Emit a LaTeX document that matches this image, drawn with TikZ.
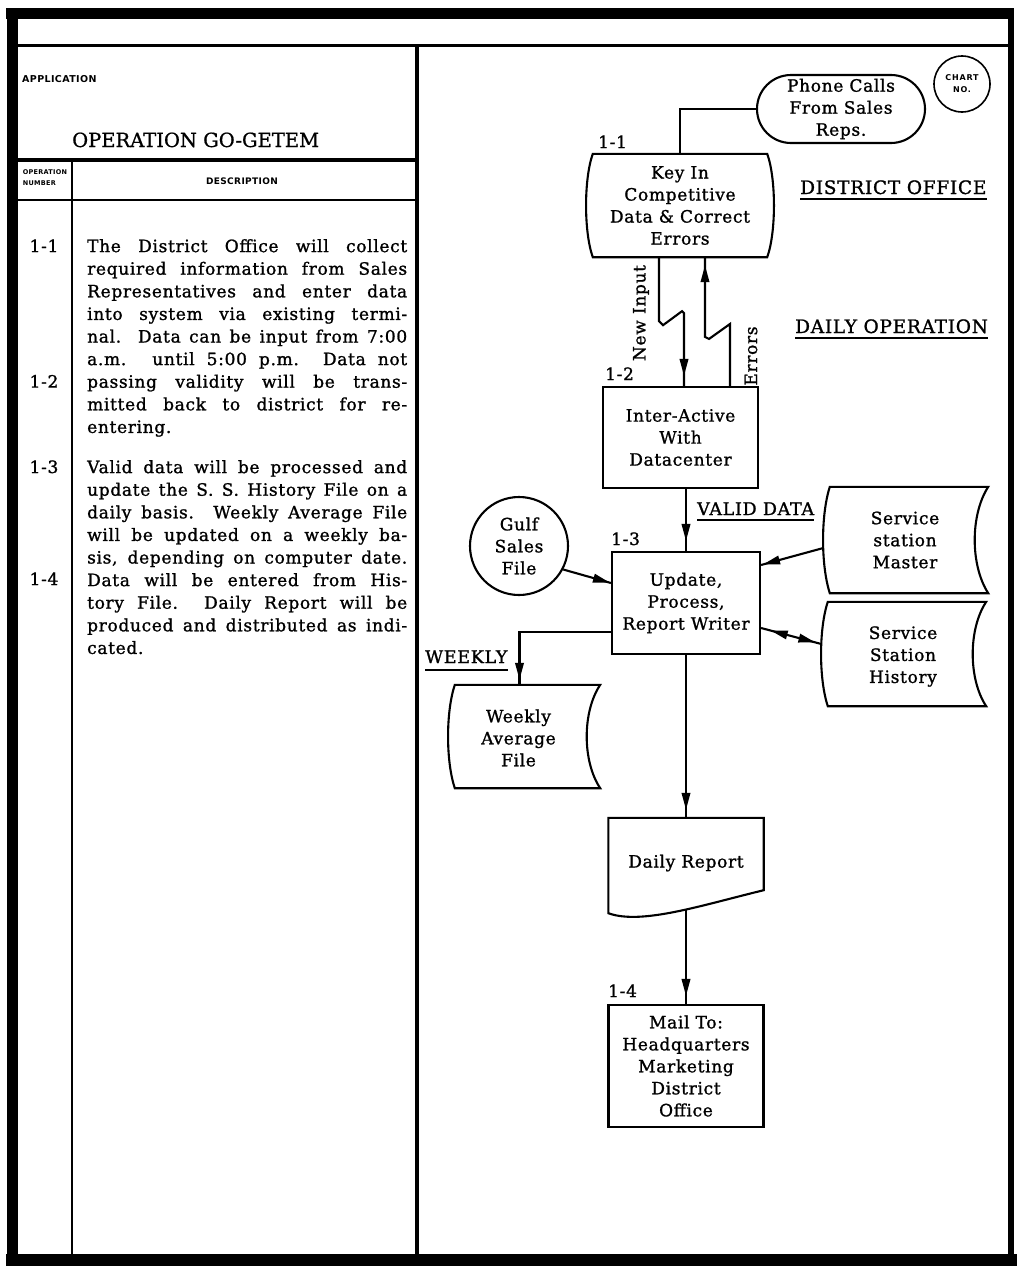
\documentclass[tikz,border=0pt]{standalone}
\usepackage{fontspec}
\setmainfont{DejaVu Serif}[LetterSpace=4,FakeBold=1.2]
\newfontfamily\titlefont{DejaVu Serif}[FakeBold=0.8]
\newfontfamily\hdrfont{DejaVu Sans}[LetterSpace=4]
\newfontfamily\chartfont{DejaVu Sans}[LetterSpace=10]
\usetikzlibrary{arrows.meta,decorations.markings,calc}
\tolerance=10000
\hyphenpenalty=10000
\emergencystretch=20pt
\tikzset{
  lnk/.style={line width=2.1pt},
  txt/.style={font=\fontsize{17}{22}\selectfont, align=center, inner sep=0pt},
  boxnode/.style={txt, draw, line width=2.1pt},
  lbl/.style={font=\fontsize{18.5}{22}\selectfont, inner sep=0pt},
  arr/.style={lnk, postaction={decorate}, decoration={markings,
     mark=at position #1 with {\arrow{Triangle[length=17pt,width=8.5pt]}}}},
  arr/.default=-8pt,
  arrboth/.style={lnk, postaction={decorate}, decoration={markings,
     mark=at position 10pt with {\arrowreversed{Triangle[length=17pt,width=8.5pt]}},
     mark=at position -6pt with {\arrow{Triangle[length=17pt,width=8.5pt]}}}},
  desc/.style={anchor=north west, text width=320pt, align=justify, inner sep=0pt,
     font=\fontsize{17}{22.6}\selectfont},
  opn/.style={font=\fontsize{17}{22}\selectfont, inner sep=0pt, anchor=base},
  ulin/.style={line width=1.5pt},
}
\begin{document}
\begin{tikzpicture}[x=1pt,y=-1pt]
\useasboundingbox (0,0) rectangle (1017,1266);
\fill[white] (0,0) rectangle (1017,1266);

% ---------- frame ----------
\draw[line width=11pt] (6,13) -- (1014,13);
\draw[line width=11pt] (12,8) -- (12,1266);
\draw[line width=12pt] (6,1260) -- (1017,1260);
\draw[line width=6pt] (1011,8) -- (1011,1266);
\draw[line width=3pt] (12,45) -- (1011,45);
\draw[line width=4pt] (417,45) -- (417,1260);
\draw[line width=3.5pt] (12,160) -- (417,160);
\draw[line width=2pt] (12,200) -- (417,200);
\draw[line width=1.6pt] (72,160) -- (72,1260);

% ---------- left panel headers ----------
\node[anchor=base west, inner sep=0pt, font=\hdrfont\bfseries\fontsize{9.5}{10}\selectfont] (app) at (22,82) {APPLICATION};
\node[anchor=base west, inner sep=0pt, font=\titlefont\fontsize{19.5}{22}\selectfont] (title) at (72,147) {OPERATION GO-GETEM};
\node[inner sep=0pt, align=left, font=\hdrfont\bfseries\fontsize{6.5}{11}\selectfont] (opnum) at (45,178) {OPERATION\\NUMBER};
\node[inner sep=0pt, font=\hdrfont\bfseries\fontsize{9}{9}\selectfont] (deschd) at (242,181) {DESCRIPTION};

% ---------- description text ----------
\node[opn] (o11) at (44,252) {1-1};
\node[opn] (o12) at (44,387.6) {1-2};
\node[opn] (o13) at (44,473) {1-3};
\node[opn] (o14) at (44,585) {1-4};
\node[desc] (desc1) at (87,239) {The District Office will collect\linebreak
required information from Sales\linebreak
Representatives and enter data\linebreak
into system via existing termi-\linebreak
nal.\ \ Data can be input from 7:00\linebreak
a.m. until 5:00 p.m.\ \ Data not\linebreak
passing validity will be trans-\linebreak
mitted back to district for re-\linebreak
entering.};
\node[desc] (desc2) at (87,460) {Valid data will be processed and\linebreak
update the S. S. History File on a\linebreak
daily basis.\ \ Weekly Average File\linebreak
will be updated on a weekly ba-\linebreak
sis, depending on computer date.\linebreak
Data will be entered from His-\linebreak
tory File.\ \ Daily Report will be\linebreak
produced and distributed as indi-\linebreak
cated.};

% ---------- flowchart ----------
\node[draw, circle, line width=1.6pt, minimum size=56pt, inner sep=0pt, align=center,
      font=\chartfont\bfseries\fontsize{8}{12}\selectfont] (chart) at (962,84) {CHART\\NO.};

\node[boxnode, rounded corners=34pt, minimum width=168pt, minimum height=68pt] (phone) at (841,109) {Phone Calls\\From Sales\\Reps.};

\node[txt, minimum width=174pt, minimum height=103pt] (keyin) at (680,205.5) {Key In\\Competitive\\Data \& Correct\\Errors};
\draw[lnk] (keyin.north west) -- (keyin.north east)
   .. controls +(9,25) and +(9,-25) .. (keyin.south east) -- (keyin.south west)
   .. controls +(-9,-25) and +(-9,25) .. cycle;
\node[lbl, anchor=base west, font=\fontsize{17}{22}\selectfont] (l11) at (598,148) {1-1};
\draw[lnk] (phone.west) -| (keyin.north);

\node[lbl, anchor=base west] (district) at (800,194) {DISTRICT OFFICE};
\draw[ulin] ([yshift=-5pt]district.base west) -- ([yshift=-5pt]district.base east);
\node[lbl, anchor=base west] (daily) at (795,333) {DAILY OPERATION};
\draw[ulin] ([yshift=-5pt]daily.base west) -- ([yshift=-5pt]daily.base east);

\node[boxnode, minimum width=155pt, minimum height=101pt] (inter) at (680.5,437.5) {Inter-Active\\With\\Datacenter};
\node[lbl, anchor=base west, font=\fontsize{17}{22}\selectfont] (l12) at (605,380) {1-2};

\draw[arr=-10pt] ([xshift=-21pt]keyin.south) -- ++(0,64) -- ++(4,4) -- ++(19,-14) -- ++(2,2) -- ([xshift=3.5pt]inter.north);
\draw[arr=-8pt] ([xshift=49.5pt]inter.north) -- ++(0,-62) -- ++(-21,15) -- ++(-4,-2) -- ([xshift=25pt]keyin.south);
\node[txt, rotate=90] (newin) at (641,313) {New Input};
\node[txt, rotate=90] (errl) at (751,356) {Errors};

\node[boxnode, minimum width=148pt, minimum height=102pt] (update) at (686,603) {Update,\\Process,\\Report Writer};
\node[lbl, anchor=base west, font=\fontsize{17}{22}\selectfont] (l13) at (611,545) {1-3};
\draw[arr=-10pt] (update.north |- inter.south) -- (update.north);
\node[lbl, anchor=base west, font=\fontsize{17.5}{22}\selectfont] (valid) at (697,515) {VALID DATA};
\draw[ulin] ([yshift=-5pt]valid.base west) -- ([yshift=-5pt]valid.base east);

\node[txt, draw, circle, line width=2.1pt, minimum size=98pt] (gulf) at (519,546) {Gulf\\Sales\\File};
\draw[arr=-1pt] (gulf.-28) -- ([yshift=20pt]update.west);

% Service station Master
\node[minimum width=158pt, minimum height=106pt, inner sep=0pt] (master) at (909,540) {};
\draw[lnk] (master.north west) -- (master.north east)
   .. controls +(-18,28) and +(-18,-28) .. (master.south east) -- (master.south west)
   .. controls +(-9,-28) and +(-9,28) .. cycle;
\node[txt] (masterT) at ([xshift=-4pt]master.center) {Service\\station\\Master};
\draw[arr=-2pt] ([xshift=-6.5pt,yshift=-8pt]master.west) -- ([yshift=38pt]update.east);

% Service Station History
\node[minimum width=158pt, minimum height=104pt, inner sep=0pt] (history) at (907,654) {};
\draw[lnk] (history.north west) -- (history.north east)
   .. controls +(-18,27) and +(-18,-27) .. (history.south east) -- (history.south west)
   .. controls +(-9,-27) and +(-9,27) .. cycle;
\node[txt] (historyT) at ([xshift=-4pt,yshift=-2.5pt]history.center) {Service\\Station\\History};
\draw[arrboth] ([yshift=-25pt]update.east) -- ([xshift=-6.5pt,yshift=10pt]history.west);

% Weekly Average File
\node[minimum width=145pt, minimum height=103pt, inner sep=0pt] (weekly) at (527.5,736.5) {};
\draw[lnk] (weekly.north west) -- (weekly.north east)
   .. controls +(-18,27) and +(-18,-27) .. (weekly.south east) -- (weekly.south west)
   .. controls +(-9,-27) and +(-9,27) .. cycle;
\node[txt] (weeklyT) at ([xshift=-9pt,yshift=-1.5pt]weekly.center) {Weekly\\Average\\File};
\draw[arr=-5pt] ([yshift=-29pt]update.west) -| ([xshift=-8pt]weekly.north);
\node[lbl, anchor=base west, font=\fontsize{17.5}{22}\selectfont] (wkl) at (425,663) {WEEKLY};
\draw[ulin] ([yshift=-7pt]wkl.base west) -- ([yshift=-7pt]wkl.base east);

% Daily Report (document)
\node[txt, minimum width=155pt, minimum height=90pt] (doc) at (686,863) {Daily Report};
\draw[lnk] (doc.north west) -- (doc.north east) -- ([yshift=18pt]doc.south east)
   .. controls +(-62,15) and +(33,12) .. ([yshift=-5pt]doc.south west) -- cycle;
\draw[arr=-8pt] (update.south) -- (doc.north);

% Mail
\node[boxnode, minimum width=155pt, minimum height=122pt] (mail) at (686,1066) {Mail To:\\Headquarters\\Marketing\\District\\Office};
\node[lbl, anchor=base west, font=\fontsize{17}{22}\selectfont] (l14) at (608,997) {1-4};
\draw[arr=-8pt] ([yshift=-2pt]doc.south) -- (mail.north);
\end{tikzpicture}
\end{document}
